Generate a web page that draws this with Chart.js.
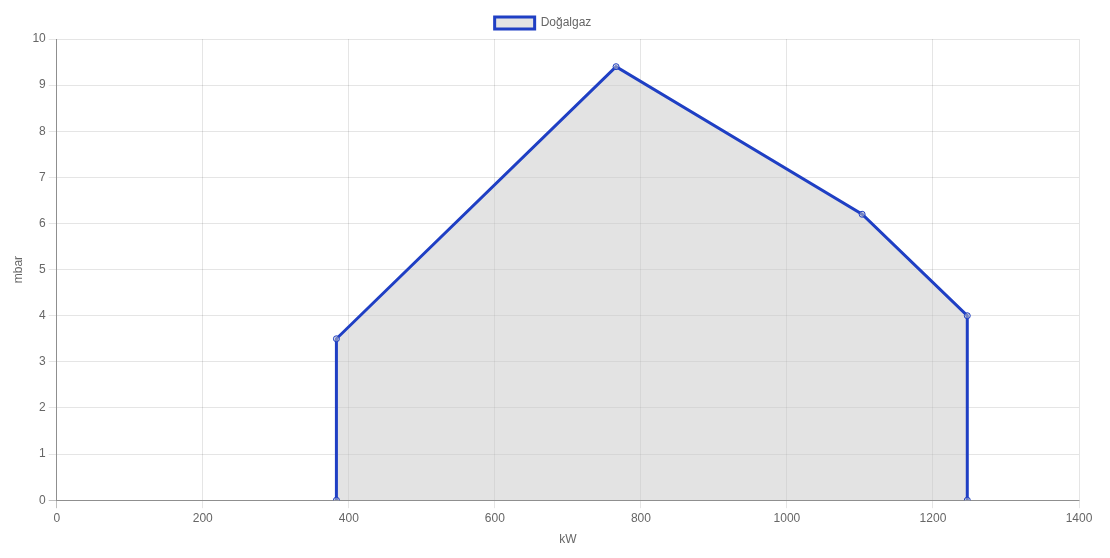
<!DOCTYPE html>
<html>
<head>
<meta charset="utf-8">
<script src="https://cdn.jsdelivr.net/npm/chart.js@4"></script>
<style>
  body { margin: 0; background: #fff; }
  #wrap { width: 1110px; height: 558px; }
</style>
</head>
<body>
<div id="wrap"><canvas id="gasChart"></canvas></div>
<script>
var seriesName = "Doğalgaz";
var xValues = [383, 383, 766, 1103, 1247, 1247];
var yValues = [0, 3.5, 9.4, 6.2, 4, 0];
var xTicks = [0, 200, 400, 600, 800, 1000, 1200, 1400];
var yTicks = [0, 1, 2, 3, 4, 5, 6, 7, 8, 9, 10];

function gasChart(){
    Chart.defaults.font.family = "Arial, 'Liberation Sans', sans-serif";
    Chart.defaults.font.size = 12;
    Chart.defaults.color = "#666";

    var points = xValues.map(function(x, i){ return { x: x, y: yValues[i] }; });
    var gridColor = function(ctx){ return ctx.tick && ctx.tick.value === 0 ? "rgba(0,0,0,0.25)" : "rgba(0,0,0,0.1)"; };

    new Chart("gasChart", {
        type: "scatter",
        data: {
            datasets: [{
                label: seriesName,
                data: points,
                showLine: true,
                borderColor: "#1f3fc4",
                backgroundColor: "rgba(200,200,200,0.5)",
                borderWidth: 3,
                pointRadius: 3,
                pointBorderWidth: 1,
                pointBackgroundColor: "rgba(200,200,200,0.5)",
                fill: "origin",
                tension: 0
            }]
        },
        options: {
            responsive: true,
            maintainAspectRatio: false,
            animation: false,
            layout: { padding: { left: 7, right: 31, top: 7, bottom: 7 } },
            plugins: {
                legend: {
                    display: true,
                    position: "top",
                    labels: { boxWidth: 40, padding: 10 }
                },
                tooltip: { enabled: false }
            },
            scales: {
                x: {
                    type: "linear",
                    min: xTicks[0],
                    max: xTicks[xTicks.length - 1],
                    afterBuildTicks: function(axis){ axis.ticks = xTicks.map(function(v){ return { value: v }; }); },
                    ticks: { callback: function(v){ return String(v); } },
                    title: { display: true, text: "kW" },
                    grid: { color: gridColor },
                    border: { color: "rgba(0,0,0,0.25)" }
                },
                y: {
                    min: yTicks[0],
                    max: yTicks[yTicks.length - 1],
                    afterBuildTicks: function(axis){ axis.ticks = yTicks.map(function(v){ return { value: v }; }); },
                    ticks: { callback: function(v){ return String(v); } },
                    title: { display: true, text: "mbar" },
                    grid: { color: gridColor },
                    border: { color: "rgba(0,0,0,0.25)" }
                }
            }
        }
    });
}

gasChart();
</script>
</body>
</html>
